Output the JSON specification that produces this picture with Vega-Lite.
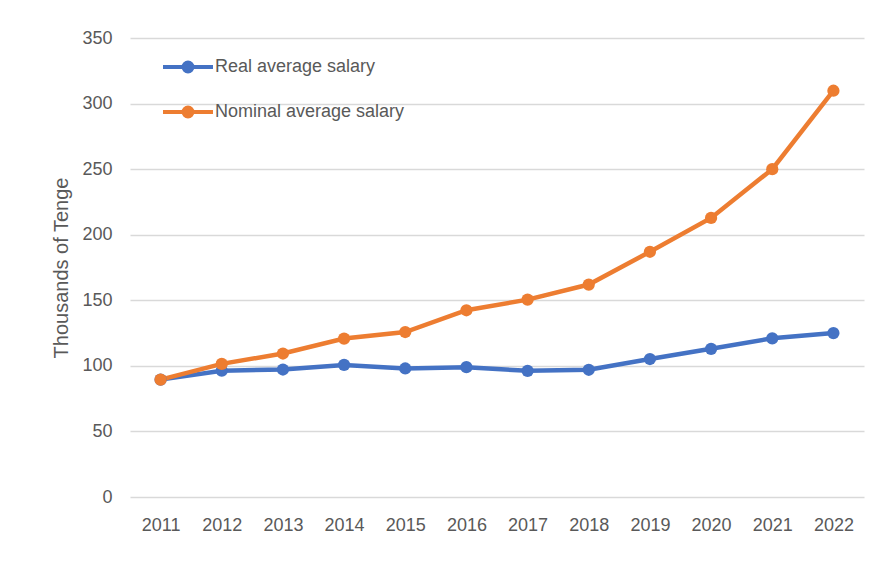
{
  "$schema": "https://vega.github.io/schema/vega-lite/v6.json",
  "autosize": "none",
  "width": 734,
  "height": 459,
  "padding": {"left": 130, "top": 38, "right": 16, "bottom": 73},
  "background": "white",
  "config": {
    "view": {"stroke": null},
    "font": "Liberation Sans"
  },
  "data": {
    "values": [
      {"year": "2011", "series": "Real average salary", "value": 89.5},
      {"year": "2012", "series": "Real average salary", "value": 96.3},
      {"year": "2013", "series": "Real average salary", "value": 97.2},
      {"year": "2014", "series": "Real average salary", "value": 100.7},
      {"year": "2015", "series": "Real average salary", "value": 98.0},
      {"year": "2016", "series": "Real average salary", "value": 99.0},
      {"year": "2017", "series": "Real average salary", "value": 96.2},
      {"year": "2018", "series": "Real average salary", "value": 97.0},
      {"year": "2019", "series": "Real average salary", "value": 105.2},
      {"year": "2020", "series": "Real average salary", "value": 113.0},
      {"year": "2021", "series": "Real average salary", "value": 121.0},
      {"year": "2022", "series": "Real average salary", "value": 125.0},
      {"year": "2011", "series": "Nominal average salary", "value": 89.5},
      {"year": "2012", "series": "Nominal average salary", "value": 101.5},
      {"year": "2013", "series": "Nominal average salary", "value": 109.4},
      {"year": "2014", "series": "Nominal average salary", "value": 120.8},
      {"year": "2015", "series": "Nominal average salary", "value": 125.8},
      {"year": "2016", "series": "Nominal average salary", "value": 142.4},
      {"year": "2017", "series": "Nominal average salary", "value": 150.5},
      {"year": "2018", "series": "Nominal average salary", "value": 162.0},
      {"year": "2019", "series": "Nominal average salary", "value": 187.0},
      {"year": "2020", "series": "Nominal average salary", "value": 212.8},
      {"year": "2021", "series": "Nominal average salary", "value": 250.0},
      {"year": "2022", "series": "Nominal average salary", "value": 309.8}
    ]
  },
  "mark": {
    "type": "line",
    "strokeWidth": 4.5,
    "point": {"filled": true, "size": 150, "opacity": 1}
  },
  "encoding": {
    "x": {
      "field": "year",
      "type": "ordinal",
      "scale": {"type": "point", "padding": 0.5},
      "axis": {
        "title": null,
        "labelAngle": 0,
        "domain": false,
        "ticks": false,
        "labelFontSize": 18,
        "labelColor": "#595959",
        "labelPadding": 19,
        "grid": false
      }
    },
    "y": {
      "field": "value",
      "type": "quantitative",
      "scale": {"domain": [0, 350]},
      "axis": {
        "title": "Thousands of Tenge",
        "titleFontSize": 20,
        "titleFontWeight": "normal",
        "titleColor": "#595959",
        "titlePadding": 10,
        "values": [0, 50, 100, 150, 200, 250, 300, 350],
        "domain": false,
        "ticks": false,
        "labelFontSize": 18,
        "labelColor": "#595959",
        "labelPadding": 18,
        "grid": true,
        "gridColor": "#d9d9d9",
        "gridWidth": 1.5
      }
    },
    "color": {
      "field": "series",
      "type": "nominal",
      "sort": ["Real average salary", "Nominal average salary"],
      "scale": {
        "domain": ["Real average salary", "Nominal average salary"],
        "range": ["#4472C4", "#ED7D31"]
      },
      "legend": {
        "title": null,
        "orient": "none",
        "legendX": 43.5,
        "legendY": 14.5,
        "symbolType": "M-2,0L2,0M-0.36,0A0.36,0.36,0,1,1,0.36,0A0.36,0.36,0,1,1,-0.36,0Z",
        "symbolSize": 625,
        "symbolStrokeWidth": 4,
        "labelFontSize": 18,
        "labelColor": "#595959",
        "labelOffset": 12.5,
        "labelLimit": 400,
        "rowPadding": 18,
        "encode": {
          "symbols": {
            "update": {
              "fill": {"scale": "color", "field": "value"},
              "stroke": {"scale": "color", "field": "value"},
              "opacity": {"value": 1}
            }
          }
        }
      }
    }
  }
}
